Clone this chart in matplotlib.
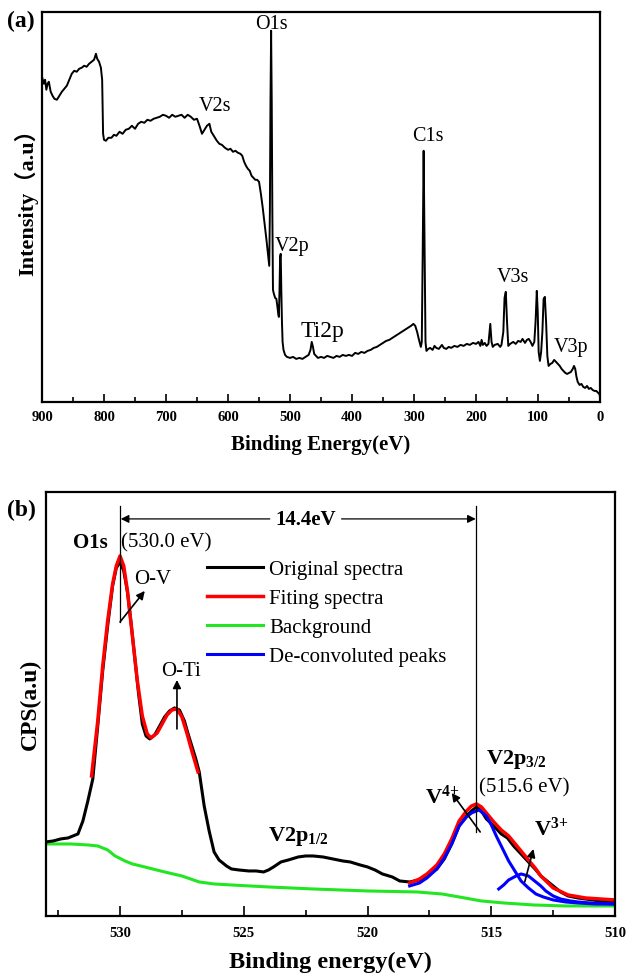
import matplotlib
matplotlib.use("Agg")
import matplotlib.pyplot as plt
from matplotlib.ticker import MultipleLocator

plt.rcParams["font.family"] = ["Liberation Serif", "Noto Sans CJK SC"]
plt.rcParams["mathtext.fontset"] = "custom"
plt.rcParams["mathtext.rm"] = "Liberation Serif"
plt.rcParams["mathtext.bf"] = "Liberation Serif:bold"

# (a) survey spectrum, binding energy (eV) vs intensity (a.u.)
survey_energy = [
    900, 897, 895, 893, 891, 889, 886, 883, 880, 876, 872, 868, 864, 860, 856,
    852, 848, 844, 840, 836, 832, 828, 824, 820, 816, 813, 811, 808, 805, 803,
    801.5, 800, 797, 793, 788, 784, 780, 775, 770, 765, 760, 755, 750, 745, 740,
    735, 730, 725, 720, 715, 710, 705, 700, 695, 690, 685, 680, 675, 670, 665,
    660, 655, 650, 646, 642, 638, 634, 630, 627, 622, 618, 614, 610, 605, 600,
    596, 592, 588, 584, 580, 577, 574, 571, 568, 565, 562, 559, 556, 553, 550,
    547, 544, 541, 538, 536, 534.5, 533.5, 532.5, 531.5, 530.5, 529.5, 528.5,
    527.5, 526, 524, 522, 520.5, 519, 518, 517, 516, 515, 514, 513, 512, 510.5,
    508, 505, 500, 495, 490, 485, 480, 475, 470, 467, 465, 463, 461, 458, 455,
    450, 445, 440, 435, 430, 425, 420, 415, 410, 405, 400, 395, 390, 385, 380,
    375, 370, 365, 360, 355, 350, 345, 340, 335, 330, 325, 320, 315, 310, 305,
    301, 298, 295, 292, 289, 287.5, 286, 284.5, 283, 281.5, 280, 277, 274, 270,
    267, 264, 260, 255, 252, 248, 244, 240, 235, 230, 225, 220, 215, 210, 205,
    200, 196, 193, 191, 189, 186, 183, 180, 177, 175, 173, 170, 165, 161, 159,
    156, 154, 152, 150, 148, 145, 140, 136, 132, 128, 125, 121, 118, 115, 112,
    109, 106, 104, 102, 100.5, 99, 97, 95, 93, 91, 89, 87, 85, 83, 80, 77, 74,
    71, 68, 65, 62, 59, 56, 53, 50, 47, 44, 42, 40, 38, 36, 33, 30, 27, 24, 21,
    18, 15, 12, 9, 6, 3, 1, 0,
]
survey_counts = [
    325, 318, 322, 312, 318, 320, 310, 306, 303, 302, 306, 310, 313, 316, 322,
    328, 331, 330, 333, 334, 336, 335, 338, 340, 342, 348, 343, 340, 334, 322,
    268, 262, 261, 264, 264, 267, 266, 270, 268, 272, 273, 276, 273, 278, 280,
    279, 282, 281, 283, 284, 285, 287, 286, 284, 287, 285, 286, 287, 284, 287,
    285, 282, 283, 276, 268, 272, 276, 278, 270, 265, 261, 258, 257, 254, 252,
    253, 250, 251, 249, 248, 246, 240, 236, 233, 231, 226, 224, 222, 222, 220,
    208, 194, 178, 162, 150, 140, 136, 190, 300, 371, 300, 190,
    112, 108, 104, 103, 96, 88, 85, 110, 145, 148, 110, 80, 60, 52,
    47, 45, 44, 45, 43, 44, 43, 45, 47, 52, 60, 55, 48, 46, 44,
    45, 44, 46, 45, 44, 46, 45, 47, 46, 47, 46, 49, 48, 50, 49,
    51, 52, 54, 55, 57, 59, 61, 62, 64, 66, 68, 70, 72, 74, 76,
    78, 76, 70, 62, 55, 60, 150, 251, 150, 60, 51, 53, 54, 52,
    56, 54, 53, 57, 54, 53, 55, 54, 56, 55, 57, 56, 58, 57, 59,
    58, 60, 56, 62, 57, 59, 56, 58, 78, 60, 55, 57, 58, 55, 57,
    70, 104, 110, 80, 56, 58, 60, 58, 61, 60, 63, 59, 62, 63, 60,
    56, 60, 80, 111, 90, 50, 41, 50, 70, 103, 105, 80, 46, 36, 38, 39, 42,
    40, 38, 36, 33, 31, 29, 28, 29, 30, 33, 36, 33, 25, 20, 17, 18, 15, 14, 16,
    13, 14, 12, 11, 11, 9, 8, 5,
]
survey_peaks = ["O1s", "V2s", "V2p", "Ti2p", "C1s", "V3s", "V3p"]
survey_peak_pos = [(529.6, 378), (621, 296), (497, 156), (447, 71), (277, 266), (140, 125), (47, 55)]

# (b) O1s / V2p high resolution spectrum
hr_energy = [
    533, 532.7, 532.4, 532.1, 531.9, 531.7, 531.5, 531.3, 531.1, 530.9, 530.7,
    530.5, 530.3, 530.15, 530.0, 529.85, 529.7, 529.55, 529.4, 529.25, 529.1,
    528.95, 528.8, 528.6, 528.4, 528.2, 528.0, 527.8, 527.6, 527.4, 527.25,
    527.1, 526.95, 526.8, 526.6, 526.4, 526.2, 526.0, 525.7, 525.5, 525.2,
    524.8, 524.5, 524.2, 524.0, 523.8, 523.5, 523.2, 522.8, 522.5, 522.2,
    521.8, 521.4, 521.0, 520.7, 520.3, 520.0, 519.7, 519.4, 519.0, 518.7,
    518.3, 517.9, 517.6, 517.2, 516.9, 516.6, 516.3, 516.0, 515.8, 515.6,
    515.4, 515.2, 514.9, 514.6, 514.35, 514.1, 513.8, 513.5, 513.2, 513.0,
    512.7, 512.5, 512.2, 511.9, 511.5, 511.2, 510.6, 510,
]
hr_original = [
    74, 75, 77, 78, 80, 82, 95, 115, 137, 190, 245,
    290, 330, 348, 354, 345, 324, 292, 257, 222, 192,
    180, 177, 181, 190, 199, 205, 208, 206, 195, 182,
    170, 158, 144, 110, 85, 64, 56, 50, 47, 46,
    45, 45, 44, 46, 49, 54, 56, 59, 60, 60,
    59, 57, 55, 54, 51, 49, 46, 42, 39, 35,
    34, 36, 40, 47, 57, 72, 90, 100, 105, 109,
    105, 97, 90, 82, 78, 70, 62, 54, 46, 40,
    34, 30, 24, 20, 18, 17, 15, 14,
]
fit_o1s_energy = [531.15, 530.9, 530.7, 530.5, 530.3, 530.15, 530.0, 529.85,
                  529.7, 529.5, 529.3, 529.1, 528.9, 528.75, 528.5, 528.3,
                  528.1, 527.9, 527.7, 527.5, 527.3, 527.1, 526.85]
fit_o1s = [140, 195, 250, 295, 332, 350, 360, 350,
           325, 280, 235, 200, 182, 178, 183, 192,
           201, 206, 207, 199, 183, 165, 144]
fit_v2p_energy = [518.3, 517.9, 517.6, 517.2, 516.9, 516.6, 516.3, 516.0,
                  515.8, 515.6, 515.4, 515.2, 514.9, 514.6, 514.3, 514.1,
                  513.8, 513.5, 513.2, 513.0, 512.5, 511.9, 511.2, 510.6, 510]
fit_v2p = [33, 37, 42, 51, 62, 77, 95, 105,
           110, 112, 109, 103, 94, 86, 80, 74,
           65, 56, 47, 40, 28, 21, 18, 17, 16]
v4_energy = [518.3, 517.9, 517.6, 517.2, 516.9, 516.6, 516.3, 516.0, 515.8,
             515.5, 515.2, 515.0, 514.8, 514.5, 514.3, 514.0, 513.8, 513.5,
             513.2, 512.9, 512.5, 512.0, 511.5, 510.8, 510]
v4_peak = [30, 33, 38, 47, 58, 72, 90, 99, 103,
           106, 100, 91, 80, 65, 55, 43, 35, 28,
           22, 19, 16, 14, 13, 12, 12]
v3_energy = [514.7, 514.5, 514.3, 514.0, 513.8, 513.5, 513.3, 513.0, 512.8,
             512.5, 512.2, 511.8, 511.5, 511.0, 510]
v3_peak = [27, 31, 36, 40, 42, 40, 36, 30, 25,
           20, 17, 15, 14, 13, 12]
bg_energy = [533, 532.0, 531.3, 530.9, 530.5, 530.2, 529.8, 529.5, 529.0,
             528.2, 527.5, 526.8, 526.2, 525.5, 524.0, 522.2, 520.0, 518.0,
             517.0, 516.3, 515.4, 514.5, 513.3, 512.0, 510]
bg_counts = [72, 72, 71, 70, 66, 60, 55, 52, 49,
             44, 40, 34, 32, 31, 29, 27, 25, 24,
             22, 19, 15, 13, 11, 10, 10]

fig = plt.figure(figsize=(6.27, 9.78), dpi=100)
ax1 = fig.add_axes([0.067, 0.588, 0.890, 0.399])
ax2 = fig.add_axes([0.073, 0.0624, 0.908, 0.4336])

# ---- panel (a)
ax1.plot(survey_energy, survey_counts, color="black", lw=1.4)
ax1.set_xlim(900, 0)
ax1.set_ylim(0, 390)
ax1.set_yticks([])
ax1.xaxis.set_major_locator(MultipleLocator(100))
ax1.xaxis.set_minor_locator(MultipleLocator(50))
ax1.tick_params(axis="x", which="major", direction="in", length=6, width=1.2, labelsize=10.5, pad=6)
ax1.tick_params(axis="x", which="minor", direction="in", length=3.5, width=1.2)
for s in ax1.spines.values():
    s.set_linewidth(1.6)
plt.setp(ax1.get_xticklabels(), fontweight="bold")
ax1.set_xlabel("Binding Energy(eV)", fontsize=15, fontweight="bold", labelpad=8)
fig.text(0.0415, 0.7986, "Intensity（a.u）", fontsize=16, fontweight="bold",
         rotation=90, ha="center", va="center")
for name, (x, y) in zip(survey_peaks, survey_peak_pos):
    size = 17 if name == "Ti2p" else 14.5
    ax1.text(x, y, name, fontsize=size, ha="center", va="center")
fig.text(0.011, 0.989, "(a)", fontsize=17, fontweight="bold", va="top")

# ---- panel (b)
ax2.plot(bg_energy, bg_counts, color="#22e622", lw=2.2, label="Background")
ax2.plot(hr_energy, hr_original, color="black", lw=2.2, label="Original spectra")
ax2.plot(fit_o1s_energy, fit_o1s, color="red", lw=2.5, label="Fiting spectra")
ax2.plot(fit_v2p_energy, fit_v2p, color="red", lw=2.5)
ax2.plot(v4_energy, v4_peak, color="blue", lw=2.2, label="De-convoluted peaks")
ax2.plot(v3_energy, v3_peak, color="blue", lw=2.2)
ax2.set_xlim(533, 510)
ax2.set_ylim(0, 424)
ax2.set_yticks([])
ax2.xaxis.set_major_locator(MultipleLocator(5))
ax2.xaxis.set_minor_locator(MultipleLocator(2.5))
ax2.tick_params(axis="x", which="major", direction="in", length=7, width=1.2, labelsize=10.5, pad=7)
ax2.tick_params(axis="x", which="minor", direction="in", length=4, width=1.2)
for s in ax2.spines.values():
    s.set_linewidth(1.6)
plt.setp(ax2.get_xticklabels(), fontweight="bold")
ax2.set_xlabel("Binding energy(eV)", fontsize=17.5, fontweight="bold", labelpad=9)
fig.text(0.049, 0.280, "CPS(a.u)", fontsize=17, fontweight="bold",
         rotation=90, ha="center", va="center")

handles, labels = ax2.get_legend_handles_labels()
order = ["Original spectra", "Fiting spectra", "Background", "De-convoluted peaks"]
hmap = dict(zip(labels, handles))
ax2.legend([hmap[k] for k in order], order, loc="upper left",
           bbox_to_anchor=(0.25, 0.885), frameon=False, fontsize=15,
           handlelength=2.7, handletextpad=0.3, labelspacing=0.45)

# reference lines and arrows
arrow = dict(arrowstyle="-|>", color="black", lw=0.9, mutation_scale=12, shrinkA=0, shrinkB=0)
ax2.plot([530.0, 530.0], [294, 410], color="black", lw=0.9)
ax2.plot([515.6, 515.6], [84, 410], color="black", lw=0.9)
ax2.annotate("", xy=(529.97, 397), xytext=(523.95, 397), arrowprops=arrow)
ax2.annotate("", xy=(515.63, 397), xytext=(521.05, 397), arrowprops=arrow)
ax2.text(522.5, 397, "14.4eV", fontsize=15, fontweight="bold", ha="center", va="center")
ax2.text(531.2, 374, "O1s", fontsize=15, fontweight="bold", ha="center", va="center")
ax2.text(529.95, 374, "(530.0 eV)", fontsize=15, ha="left", va="center")
arrow2 = dict(arrowstyle="-|>", color="black", lw=1.2, mutation_scale=12, shrinkA=0, shrinkB=0)
ax2.annotate("", xy=(529.0, 325), xytext=(530.0, 294), arrowprops=arrow2)
ax2.text(529.45, 337, "O-V", fontsize=15, ha="left", va="center")
ax2.annotate("", xy=(527.7, 236), xytext=(527.7, 187), arrowprops=arrow2)
ax2.text(527.55, 245, "O-Ti", fontsize=15, ha="center", va="center")
ax2.text(522.8, 80, r"$\mathbf{V2p_{1/2}}$", fontsize=16, ha="center", va="center")
ax2.text(515.2, 157, r"$\mathbf{V2p_{3/2}}$", fontsize=16, ha="left", va="center")
ax2.text(515.5, 129, "(515.6 eV)", fontsize=15, ha="left", va="center")
ax2.text(517.0, 120, r"$\mathbf{V^{4{+}}}$", fontsize=16, ha="center", va="center")
ax2.annotate("", xy=(516.6, 123), xytext=(515.45, 84), arrowprops=arrow2)
ax2.text(512.6, 88, r"$\mathbf{V^{3{+}}}$", fontsize=16, ha="center", va="center")
ax2.annotate("", xy=(513.3, 67), xytext=(513.65, 34), arrowprops=arrow2)
fig.text(0.011, 0.489, "(b)", fontsize=17, fontweight="bold", va="top")

fig.savefig("out.png", dpi=100)
